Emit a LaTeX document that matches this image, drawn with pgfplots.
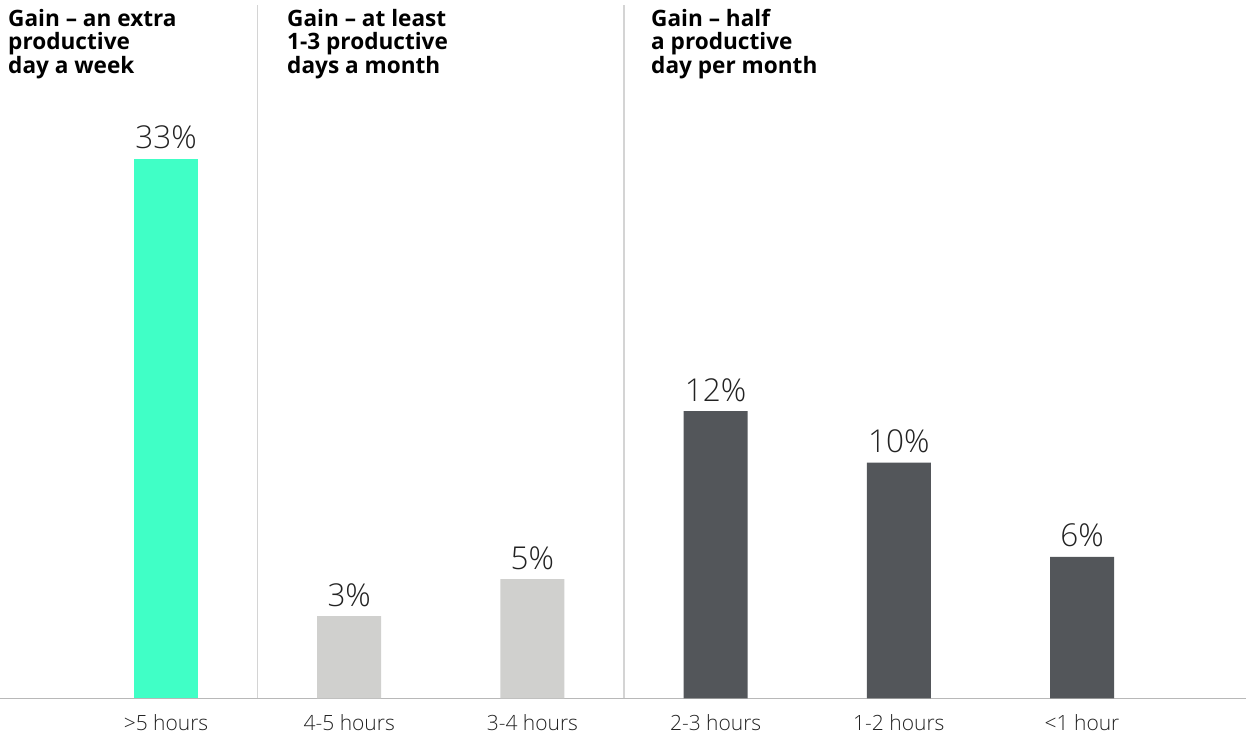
\documentclass[border=0pt]{standalone}
\usepackage{fontspec}
\setmainfont{Open Sans}
\newfontfamily\lightfont{Open Sans Light}
\usepackage{pgfplots}
\pgfplotsset{compat=1.18}
\definecolor{teal}{RGB}{64,255,198}
\definecolor{lightbar}{HTML}{D0D0CE}
\definecolor{darkbar}{HTML}{53565A}
\definecolor{sepgray}{HTML}{D4D4D4}
\definecolor{basegray}{HTML}{B8B8B8}
\definecolor{txt}{HTML}{222222}
\begin{document}
\begin{tikzpicture}[x=1pt,y=1pt]
\path[use as bounding box] (0,-35.7) rectangle (1248,698.3);
\begin{axis}[
  at={(0,0)}, anchor=south west,
  scale only axis, width=1246pt, height=698.3pt,
  xmin=-0.906, xmax=5.895, ymin=0, ymax=29.46,
  axis x line*=bottom, axis y line=none,
  x axis line style={color=basegray, line width=1.5pt},
  xtick={0,1,2,3,4,5},
  xticklabels={>5 hours,4-5 hours,3-4 hours,2-3 hours,1-2 hours,<1 hour},
  major tick length=0pt,
  xticklabel style={anchor=base, inner sep=0pt, yshift=-32.4pt, font=\lightfont\fontsize{21}{25}\selectfont, text=txt},
  ybar, bar width=64pt,
  point meta=explicit symbolic,
  nodes near coords,
  nodes near coords style={anchor=base, inner sep=0pt, yshift=10pt, font=\lightfont\fontsize{31.5}{38}\selectfont, text=txt},
  clip=false,
]
\addplot[fill=teal, draw=none, bar shift=0pt] coordinates {(0,22.76) [33\%]};
\addplot[fill=lightbar, draw=none, bar shift=0pt] coordinates {(1,3.47) [3\%] (2,5.03) [5\%]};
\addplot[fill=darkbar, draw=none, bar shift=0pt] coordinates {(3,12.12) [12\%] (4,9.94) [10\%] (5,5.97) [6\%]};
\draw[sepgray, line width=1.5pt] (axis cs:0.5,0) -- (axis cs:0.5,29.25);
\draw[sepgray, line width=1.5pt] (axis cs:2.5,0) -- (axis cs:2.5,29.25);
\end{axis}
\begin{scope}[every node/.style={anchor=north west, inner sep=0pt, align=left, font=\bfseries\fontsize{22.6}{23.6}\selectfont, text=black}]
\node at (8,689.5) {Gain – an extra\\productive\\day a week};
\node at (287,689.5) {Gain – at least\\1-3 productive\\days a month};
\node at (651,689.5) {Gain – half\\a productive\\day per month};
\end{scope}
\end{tikzpicture}
\end{document}
